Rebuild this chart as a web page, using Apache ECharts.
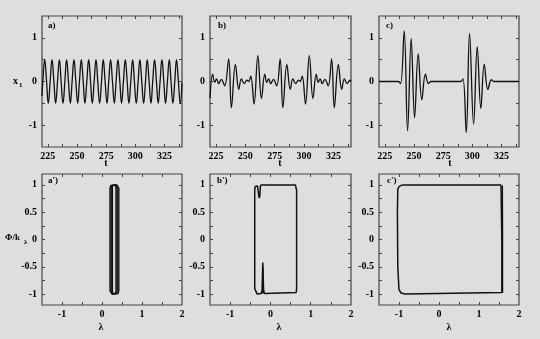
<!DOCTYPE html>
<html lang="en">
<head>
<meta charset="UTF-8">
<title>x1 / lambda panels</title>
<script src="https://cdn.jsdelivr.net/npm/echarts@6.0.0/dist/echarts.min.js"></script>
<style>
    body { margin: 0; background: #dedede; }
    #main { width: 540px; height: 339px; }
</style>
</head>
<body>
<div id="main"></div>
<script>
// ticks and labels
var tTicks = [225, 237.5, 250, 262.5, 275, 287.5, 300, 312.5, 325, 337.5];
var tLabels = [225, 250, 275, 300, 325];
var lamTicks = [-1, -0.5, 0, 0.5, 1, 1.5];
var lamLabels = [-1, 0, 1, 2];
var phiTicks = [-1, -0.75, -0.5, -0.25, 0, 0.25, 0.5, 0.75, 1];
var phiLabels = [-1, -0.5, 0, 0.5, 1];
var xTicks = [-1, -0.5, 0, 0.5, 1];
var xLabels = [-1, 0, 1];

// a) regular oscillation  [t, x1]
var seriesA = [
    [220, -0.33],
    [220.7, 0], [222.3, 0.5], [223.9, 0], [225.4, -0.5],
    [227.0, 0], [228.6, 0.5], [230.2, 0], [231.7, -0.5],
    [233.3, 0], [234.9, 0.5], [236.4, 0], [238.0, -0.5],
    [239.6, 0], [241.1, 0.5], [242.7, 0], [244.3, -0.5],
    [245.8, 0], [247.4, 0.5], [249.0, 0], [250.6, -0.5],
    [252.1, 0], [253.7, 0.5], [255.3, 0], [256.8, -0.5],
    [258.4, 0], [260.0, 0.5], [261.6, 0], [263.1, -0.5],
    [264.7, 0], [266.3, 0.5], [267.8, 0], [269.4, -0.5],
    [271.0, 0], [272.5, 0.5], [274.1, 0], [275.7, -0.5],
    [277.2, 0], [278.8, 0.5], [280.4, 0], [282.0, -0.5],
    [283.5, 0], [285.1, 0.5], [286.7, 0], [288.2, -0.5],
    [289.8, 0], [291.4, 0.5], [293.0, 0], [294.5, -0.5],
    [296.1, 0], [297.7, 0.5], [299.2, 0], [300.8, -0.5],
    [302.4, 0], [303.9, 0.5], [305.5, 0], [307.1, -0.5],
    [308.7, 0], [310.2, 0.5], [311.8, 0], [313.4, -0.5],
    [314.9, 0], [316.5, 0.5], [318.1, 0], [319.6, -0.5],
    [321.2, 0], [322.8, 0.5], [324.4, 0], [325.9, -0.5],
    [327.5, 0], [329.1, 0.5], [330.6, 0], [332.2, -0.5],
    [333.8, 0], [335.3, 0.5], [336.9, 0], [338.5, -0.5],
    [340, -0.03]
];

// b) bursts  [t, x1]
var seriesB = [
    [220.0, -0.38], [222.3, 0.17], [224.0, -0.02], [225.7, 0.06], [227.4, -0.05], [229.7, 0.05], [232.5, -0.10],
    [235.9, 0.52], [238.2, -0.60], [241.6, 0.39], [244.5, -0.18], [246.7, 0.06], [249.1, -0.05], [251.5, 0.03],
    [252.9, 0.00], [254.7, 0.12], [257.5, -0.52], [260.7, 0.59], [263.8, -0.39], [266.6, 0.17], [268.3, -0.02],
    [270.0, 0.06], [271.7, -0.05], [274.0, 0.05], [276.8, -0.10],
    [279.7, 0.52], [282.0, -0.60], [285.4, 0.39], [288.3, -0.18], [290.5, 0.06], [292.9, -0.05], [295.3, 0.03],
    [296.7, 0.00], [298.5, 0.12], [301.3, -0.52], [304.5, 0.59], [307.6, -0.39], [310.4, 0.17], [312.1, -0.02],
    [313.8, 0.06], [315.5, -0.05], [317.8, 0.05], [320.6, -0.10],
    [323.5, 0.52], [325.8, -0.60], [329.2, 0.39], [332.1, -0.18], [334.3, 0.06], [336.7, -0.05], [339.1, 0.03],
    [340, 0.01]
];

// c) two wave packets  [t, x1]
var seriesC = [
    [220, 0], [236.5, 0], [238.5, -0.05], [241.6, 1.16], [244.5, -1.13], [247.6, 0.98], [250.5, -0.83],
    [253.6, 0.63], [256.7, -0.42], [259.8, 0.17], [262.4, -0.05], [264.5, 0], [290.0, 0],
    [292.0, 0.06], [294.8, -1.17], [297.6, 1.11], [301.1, -0.98], [304.2, 0.80], [307.3, -0.62],
    [310.2, 0.40], [313.3, -0.18], [316.4, 0.04], [318.5, 0], [340, 0]
];

// a') nested loops  [lambda, phi/k]
var loopA1 = [[0.20, 0], [0.20, 0.94], [0.22, 0.99], [0.25, 1.0], [0.37, 1.0], [0.40, 0.99], [0.42, 0.94], [0.42, -0.94], [0.40, -0.99], [0.37, -1.0], [0.25, -1.0], [0.22, -0.99], [0.20, -0.94], [0.20, 0]];
var loopA2 = [[0.23, 0], [0.23, 0.94], [0.25, 0.99], [0.27, 1.0], [0.34, 1.0], [0.36, 0.99], [0.38, 0.94], [0.38, -0.94], [0.36, -0.99], [0.34, -1.0], [0.27, -1.0], [0.25, -0.99], [0.23, -0.94], [0.23, 0]];
var loopA3 = [[0.26, 0], [0.26, 0.95], [0.27, 0.99], [0.29, 1.0], [0.33, 1.0], [0.34, 0.99], [0.35, 0.95], [0.35, -0.95], [0.34, -0.99], [0.33, -1.0], [0.29, -1.0], [0.27, -0.99], [0.26, -0.95], [0.26, 0]];

// b') rectangle with notch and spike
var loopB = [
    [-0.24, 1.0], [0.62, 1.0], [0.64, 0.97], [0.65, 0.9], [0.65, -0.9], [0.64, -0.97], [0.62, -0.99],
    [-0.15, -0.99], [-0.17, -0.92], [-0.19, -0.42], [-0.205, -0.92], [-0.23, -0.99], [-0.33, -1.0],
    [-0.37, -0.97], [-0.39, -0.9], [-0.39, 0.9], [-0.38, 0.97], [-0.35, 1.0], [-0.32, 0.98],
    [-0.29, 0.8], [-0.275, 0.76], [-0.26, 0.82], [-0.25, 0.97], [-0.24, 1.0]
];
var spikeB = [[-0.18, -0.99], [-0.19, -0.5], [-0.195, -0.99]];

// c') large rectangle
var loopC = [
    [-0.92, 1.0], [1.55, 1.0], [1.56, 0.98], [1.57, 0], [1.57, -0.97], [1.55, -1.0], [-0.85, -1.0],
    [-0.95, -0.98], [-1.0, -0.92], [-1.03, -0.5], [-1.04, 0.5], [-1.03, 0.92], [-1.0, 0.97],
    [-0.95, 0.99], [-0.92, 1.0]
];
var edgeC = [[1.585, 0.99], [1.59, 0], [1.59, -0.98]];

var chart = echarts.init(document.getElementById('main'));

var font = '"Liberation Serif", "DejaVu Serif", serif';
var frame = '#444';

var grids = [
    { left: 42, top: 16, width: 140, height: 131 },
    { left: 210, top: 16, width: 141, height: 131 },
    { left: 379, top: 16, width: 140, height: 131 },
    { left: 42, top: 174, width: 140, height: 131 },
    { left: 210, top: 174, width: 141, height: 131 },
    { left: 379, top: 174, width: 140, height: 131 }
];

var xAxes = [];
var yAxes = [];
grids.forEach(function (g, i) {
    g.show = true;
    g.borderColor = frame;
    g.borderWidth = 1.2;
    g.backgroundColor = 'transparent';
    var top = i < 3;
    var xr = top ? [220, 340] : [-1.5, 2];
    var yr = top ? [-1.5, 1.5] : [-1.2, 1.2];
    var xt = top ? tTicks : lamTicks;
    var xl = top ? tLabels : lamLabels;
    var yt = top ? [-1, -0.5, 0, 0.5, 1] : phiTicks;
    var yl = top ? [-1, 0, 1] : phiLabels;
    [false, true].forEach(function (opp) {
        xAxes.push({
            type: 'value', gridIndex: i, min: xr[0], max: xr[1],
            position: opp ? 'top' : 'bottom',
            axisLine: { show: false, onZero: false },
            splitLine: { show: false },
            axisTick: { show: true, inside: true, length: 3, customValues: xt, lineStyle: { color: frame, width: 1 } },
            axisLabel: { show: !opp, customValues: xl, margin: 4, color: '#000', fontFamily: font, fontWeight: 'bold', fontSize: 10 }
        });
        yAxes.push({
            type: 'value', gridIndex: i, min: yr[0], max: yr[1],
            position: opp ? 'right' : 'left',
            axisLine: { show: false, onZero: false },
            splitLine: { show: false },
            axisTick: { show: true, inside: true, length: 3, customValues: yt, lineStyle: { color: frame, width: 1 } },
            axisLabel: { show: !opp, customValues: yl, margin: 5, color: '#000', fontFamily: font, fontWeight: 'bold', fontSize: 10 }
        });
    });
});

function line(data, i, smooth, width) {
    return {
        type: 'line', data: data, xAxisIndex: 2 * i, yAxisIndex: 2 * i,
        showSymbol: false, smooth: smooth, animation: false,
        lineStyle: { color: '#111', width: width }
    };
}

function txt(s, x, y, size, align) {
    return {
        type: 'text', x: x, y: y,
        style: { text: s, fill: '#000', font: 'bold ' + size + 'px ' + font, align: align || 'left', verticalAlign: 'middle' }
    };
}

chart.setOption({
    backgroundColor: '#dedede',
    animation: false,
    grid: grids,
    xAxis: xAxes,
    yAxis: yAxes,
    series: [
        line(seriesA, 0, 0.45, 1.3),
        line(seriesB, 1, 0.4, 1.3),
        line(seriesC, 2, 0.4, 1.3),
        line(loopA1, 3, false, 1.4),
        line(loopA2, 3, false, 1.4),
        line(loopA3, 3, false, 1.4),
        line(loopB, 4, false, 1.5),
        line(spikeB, 4, false, 1.5),
        line(loopC, 5, false, 1.5),
        line(edgeC, 5, false, 1.3)
    ],
    graphic: [
        txt('a)', 48, 26, 9),
        txt('b)', 218, 26, 9),
        txt('c)', 386, 26, 9),
        txt("a')", 48, 181, 9),
        txt("b')", 217, 181, 9),
        txt("c')", 387, 181, 9),
        txt('x', 13, 81, 10),
        txt('1', 19, 85, 7),
        txt('t', 106, 163, 10, 'center'),
        txt('t', 280, 163, 10, 'center'),
        txt('t', 450, 163, 10, 'center'),
        txt('Φ/k', 5, 238, 9),
        txt('λ', 24, 242, 7),
        txt('λ', 101, 327, 10, 'center'),
        txt('λ', 279, 327, 10, 'center'),
        txt('λ', 449, 327, 10, 'center')
    ]
});
</script>
</body>
</html>
